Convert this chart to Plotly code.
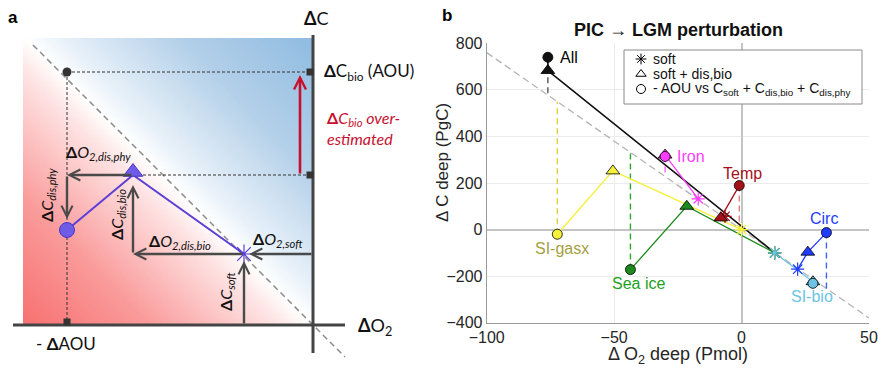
import numpy as np
import plotly.graph_objects as go

# ---------------- Panel b data ----------------
names = ["All", "SI-gasx", "Sea ice", "Iron", "Temp", "Circ", "SI-bio"]
colors = ["#111111", "#f5f03a", "#1c8a1c", "#ff3cff", "#a3111a", "#1f3cff", "#6cc3e3"]
text_colors = ["#000000", "#a3a040", "#22a022", "#ff3cff", "#a3111a", "#1f3cff", "#6cc3e3"]
dash_colors = ["#555555", "#e0d040", "#2aa82a", "#ff66ff", "#e08080", "#4060ff", "#6cc3e3"]
soft_x = [13, 0, 13, -17, -6.5, 22, 13]
soft_y = [-100, 0, -100, 132, 57, -170, -100]
disbio_x = [-76, -50.5, -21.5, -30, -8.2, 26, 28]
disbio_y = [683, 252, 100, 320, 50, -97, -224]
aou_x = [-76, -72.3, -43.6, -30, -0.9, 33.3, 28]
aou_y = [740, -20, -172, 314, 189, -13, -231]
label_x = [-72, -70.3, -40.4, -26, 0.3, 32.3, 27.5]
label_y = [740, -80, -230, 314, 242, 46, -288]
label_anchor = ["left", "center", "center", "left", "center", "center", "center"]
one_to_one_slope = -7.6
line_x = [-100, 50]
x_ticks = [-100, -50, 0, 50]
y_ticks = [-400, -200, 0, 200, 400, 600, 800]

legend_labels = ["soft", "soft + dis,bio",
                 "- AOU vs C<sub>soft</sub> + C<sub>dis,bio</sub> + C<sub>dis,phy</sub>"]
legend_symbols = ["asterisk-open", "triangle-up-open", "circle-open"]

# ---------------- Panel a schematic (units = px, origin at axis crossing) ----------------
bg_x = [-290, 0]
bg_y = [0, 287]
diag_x = [-280, 32]
pt_dot = [-246, 253]
pt_tri = [-180, 150]
pt_circ = [-246, 95]
pt_star = [-69, 71]
tick_marks_x = [-3, -3, -246]
tick_marks_y = [253, 150, 3]
# arrows: tail_x, tail_y, head_x, head_y
arrows = [
    (0, 71, -64, 71),
    (-69, 0, -69, 64),
    (-69, 71, -180, 71),
    (-180, 71, -180, 140),
    (-180, 150, -246, 150),
    (-246, 150, -246, 106),
]
red_arrow = (-13, 150, -13, 250)

fig = go.Figure()

# ---- background gradient ----
N = 120
gx = np.linspace(bg_x[0], bg_x[1], N + 1)
gy = np.linspace(bg_y[0], bg_y[1], N + 1)
cx = 0.5 * (gx[:-1] + gx[1:])
cy = 0.5 * (gy[:-1] + gy[1:])
Z = cy[:, None] + cx[None, :]
fig.add_trace(go.Heatmap(
    x=gx, y=gy, z=Z, xaxis="x2", yaxis="y2", zmin=-290, zmax=290,
    colorscale=[[0, "rgb(247,112,112)"], [0.22, "rgb(250,155,155)"], [0.44, "rgb(254,228,228)"],
                [0.5, "rgb(255,255,255)"], [0.56, "rgb(232,241,249)"], [0.76, "rgb(180,208,233)"],
                [1, "rgb(142,187,224)"]],
    showscale=False, hoverinfo="skip"))

# diagonal dashed
fig.add_trace(go.Scatter(x=diag_x, y=[-v for v in diag_x], xaxis="x2", yaxis="y2", mode="lines",
                         line=dict(color="#8a8a8a", width=1.5, dash="6px,4px"), showlegend=False, hoverinfo="skip"))
# dotted guides
fig.add_trace(go.Scatter(x=[pt_dot[0], -5, None, pt_dot[0], pt_dot[0], None, pt_tri[0], -5],
                         y=[pt_dot[1], pt_dot[1], None, pt_dot[1], 3, None, pt_tri[1], pt_tri[1]],
                         xaxis="x2", yaxis="y2", mode="lines",
                         line=dict(color="#333333", width=1, dash="3px,2px"), showlegend=False, hoverinfo="skip"))
# axes of schematic
fig.add_trace(go.Scatter(x=[0, 0, None, -300, 32], y=[-28, 290, None, 0, 0], xaxis="x2", yaxis="y2",
                         mode="lines", line=dict(color="#444444", width=3), showlegend=False, hoverinfo="skip"))
# tick squares
fig.add_trace(go.Scatter(x=tick_marks_x, y=tick_marks_y, xaxis="x2", yaxis="y2", mode="markers",
                         marker=dict(symbol="square", size=7, color="#333333"), showlegend=False, hoverinfo="skip"))
# dot
fig.add_trace(go.Scatter(x=[pt_dot[0]], y=[pt_dot[1]], xaxis="x2", yaxis="y2", mode="markers",
                         marker=dict(size=9, color="#333333"), showlegend=False, hoverinfo="skip"))
# purple path
fig.add_trace(go.Scatter(x=[pt_circ[0], pt_tri[0], pt_star[0]], y=[pt_circ[1], pt_tri[1], pt_star[1]],
                         xaxis="x2", yaxis="y2", mode="lines", line=dict(color="#5b3fd6", width=2),
                         showlegend=False, hoverinfo="skip"))

ann = []
for tx, ty, hx, hy in arrows:
    ann.append(dict(x=hx, y=hy, ax=tx, ay=ty, xref="x2", yref="y2", axref="x2", ayref="y2",
                    text="", showarrow=True, arrowhead=5, arrowsize=0.9, arrowwidth=2.4,
                    arrowcolor="#4a4a4a", standoff=0))
tx, ty, hx, hy = red_arrow
ann.append(dict(x=hx, y=hy, ax=tx, ay=ty, xref="x2", yref="y2", axref="x2", ayref="y2",
                text="", showarrow=True, arrowhead=5, arrowsize=0.9, arrowwidth=2.6,
                arrowcolor="#c8102e", standoff=0))

# purple markers (on top)
fig.add_trace(go.Scatter(x=[pt_circ[0]], y=[pt_circ[1]], xaxis="x2", yaxis="y2", mode="markers",
                         marker=dict(size=15, color="#6f5ce6", line=dict(color="#4a35c8", width=1)),
                         showlegend=False, hoverinfo="skip"))
fig.add_trace(go.Scatter(x=[pt_tri[0]], y=[pt_tri[1] + 3], xaxis="x2", yaxis="y2", mode="markers",
                         marker=dict(symbol="triangle-up", size=17, color="#6f5ce6", line=dict(color="#4a35c8", width=1)),
                         showlegend=False, hoverinfo="skip"))
fig.add_trace(go.Scatter(x=[pt_star[0]], y=[pt_star[1]], xaxis="x2", yaxis="y2", mode="markers",
                         marker=dict(symbol="asterisk-open", size=16, color="#5b3fd6",
                                     line=dict(color="#5b3fd6", width=1.2)),
                         showlegend=False, hoverinfo="skip"))

fa = "Lato, 'Open Sans', sans-serif"
def a_text(x, y, t, size=15, color="#111111", xanchor="center", angle=0):
    ann.append(dict(x=x, y=y, xref="x2", yref="y2", text=t, showarrow=False, xanchor=xanchor,
                    yanchor="middle", textangle=angle, font=dict(family=fa, size=size, color=color)))

a_text(3, 307, "<b>Δ</b>C", size=18)
a_text(9, 253, "<b>Δ</b>C<sub>bio</sub> (AOU)", size=17, xanchor="left")
ann.append(dict(x=12, y=197, xref="x2", yref="y2", text="<b>Δ</b><i>C<sub>bio</sub> over-<br>estimated</i>",
                showarrow=False, xanchor="left", yanchor="middle", align="left",
                font=dict(family=fa, size=16, color="#c8102e")))
a_text(43, -1, "<b>Δ</b>O<sub>2</sub>", size=18, xanchor="left")
a_text(-279, -18, "- <b>Δ</b>AOU", size=17, xanchor="left")
a_text(-249, 173, "<b>Δ</b><i>O<sub>2,dis,phy</sub></i>", size=16, xanchor="left")
a_text(-266, 130, "<b>Δ</b><i>C<sub>dis,phy</sub></i>", size=16, angle=-90)
a_text(-196, 110, "<b>Δ</b><i>C<sub>dis,bio</sub></i>", size=16, angle=-90)
a_text(-166, 84, "<b>Δ</b><i>O<sub>2,dis,bio</sub></i>", size=16, xanchor="left")
a_text(-62, 86, "<b>Δ</b><i>O<sub>2,soft</sub></i>", size=16, xanchor="left")
a_text(-87, 33, "<b>Δ</b><i>C<sub>soft</sub></i>", size=16, angle=-90)

# ---------------- Panel b ----------------
fb = "'Liberation Sans', Arial, sans-serif"
fig.add_trace(go.Scatter(x=line_x, y=[one_to_one_slope * v for v in line_x], mode="lines",
                         line=dict(color="#b4b4b4", width=1.3, dash="7px,4px"), showlegend=False, hoverinfo="skip"))
for i, n in enumerate(names):
    fig.add_trace(go.Scatter(x=[aou_x[i], aou_x[i]], y=[aou_y[i], one_to_one_slope * aou_x[i]], mode="lines",
                             line=dict(color=dash_colors[i], width=1.4, dash="6px,4px"),
                             showlegend=False, hoverinfo="skip"))
for i, n in enumerate(names):
    fig.add_trace(go.Scatter(x=[aou_x[i], disbio_x[i], soft_x[i]], y=[aou_y[i], disbio_y[i], soft_y[i]],
                             mode="lines", line=dict(color=colors[i], width=1.3 if i else 1.6),
                             showlegend=False, hoverinfo="skip"))
for i, n in enumerate(names):
    fig.add_trace(go.Scatter(x=[soft_x[i]], y=[soft_y[i]], mode="markers",
                             marker=dict(symbol="asterisk-open", size=11, color=colors[i],
                                         line=dict(color=colors[i], width=1.2)),
                             showlegend=False, hoverinfo="skip"))
for i, n in enumerate(names):
    fig.add_trace(go.Scatter(x=[disbio_x[i]], y=[disbio_y[i]], mode="markers",
                             marker=dict(symbol="triangle-up", size=12, color=colors[i],
                                         line=dict(color="#000000", width=0.8)),
                             showlegend=False, hoverinfo="skip"))
for i, n in enumerate(names):
    fig.add_trace(go.Scatter(x=[aou_x[i]], y=[aou_y[i]], mode="markers",
                             marker=dict(symbol="circle", size=10, color=colors[i],
                                         line=dict(color="#000000", width=0.8)),
                             showlegend=False, hoverinfo="skip"))
    ann.append(dict(x=label_x[i], y=label_y[i], xref="x", yref="y", text=n, showarrow=False,
                    xanchor=label_anchor[i], yanchor="middle",
                    font=dict(family=fb, size=16, color=text_colors[i])))

# ---- manual legend (overlay axis in pixel units) ----
leg_left, leg_top, leg_right, leg_bottom = 624, 50, 862, 104
leg_row_y = [59, 74, 89]
leg_sym_x = 641
leg_text_x = 651
shapes = [dict(type="rect", xref="x3", yref="y3", x0=leg_left, x1=leg_right, y0=leg_top, y1=leg_bottom,
               line=dict(color="#8a8a8a", width=1), fillcolor="white", layer="below")]
for lab, sym, ry in zip(legend_labels, legend_symbols, leg_row_y):
    fig.add_trace(go.Scatter(x=[leg_sym_x], y=[ry], xaxis="x3", yaxis="y3", mode="markers",
                             marker=dict(symbol=sym, size=9, color="#000000", line=dict(color="#000000", width=1)),
                             showlegend=False, hoverinfo="skip"))
    ann.append(dict(x=leg_text_x, y=ry, xref="x3", yref="y3", text=lab, showarrow=False,
                    xanchor="left", yanchor="middle", font=dict(family=fb, size=14, color="#111111")))

# titles / labels
def p_text(px, py, t, size=17, color="#262626", angle=0):
    ann.append(dict(x=px / 878, y=1 - py / 369, xref="paper", yref="paper", text=t, showarrow=False,
                    xanchor="center", yanchor="middle", textangle=angle,
                    font=dict(family=fb, size=size, color=color)))

p_text(678, 30, "<b>PIC → LGM perturbation</b>", size=18, color="#111111")
p_text(678, 355, "Δ O<sub>2</sub> deep (Pmol)", size=18)
p_text(442, 163, "Δ C deep (PgC)", size=17, angle=-90)
p_text(13, 17, "<b>a</b>", size=17, color="#000000")
p_text(447, 15, "<b>b</b>", size=17, color="#000000")

fig.update_layout(
    width=878, height=369, margin=dict(l=0, r=0, t=0, b=0, autoexpand=False),
    paper_bgcolor="white", plot_bgcolor="rgba(0,0,0,0)",
    annotations=ann, shapes=shapes,
    showlegend=False,
    xaxis=dict(domain=[486.7 / 878, 869 / 878], range=[-100, 50], tickvals=x_ticks, automargin=False,
               showgrid=True, gridcolor="#ebebeb", zeroline=True, zerolinecolor="#c4c4c4", zerolinewidth=1.5,
               showline=True, linecolor="#9a9a9a", linewidth=1, ticks="",
               tickfont=dict(family=fb, size=16, color="#262626"), fixedrange=True),
    yaxis=dict(domain=[1 - 322.7 / 369, 1 - 43.3 / 369], range=[-400, 800], tickvals=y_ticks, automargin=False,
               showgrid=True, gridcolor="#ebebeb", zeroline=True, zerolinecolor="#c4c4c4", zerolinewidth=1.5,
               showline=True, linecolor="#9a9a9a", linewidth=1, ticks="",
               tickfont=dict(family=fb, size=16, color="#262626"), fixedrange=True),
    xaxis2=dict(domain=[0, 440 / 878], range=[-313, 127], visible=False, fixedrange=True, automargin=False),
    yaxis2=dict(domain=[0, 1], range=[-44, 325], visible=False, fixedrange=True, automargin=False),
    xaxis3=dict(domain=[0, 1], range=[0, 878], visible=False, fixedrange=True, automargin=False),
    yaxis3=dict(domain=[0, 1], range=[369, 0], visible=False, fixedrange=True, automargin=False),
)

fig.write_html("out.html")
